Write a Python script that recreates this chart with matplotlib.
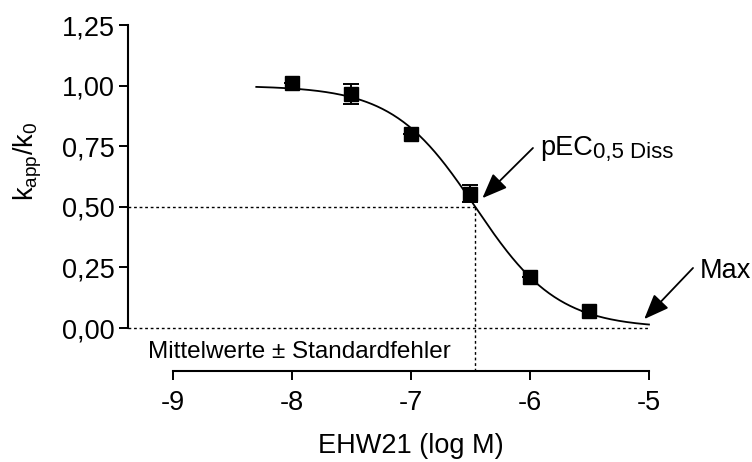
import numpy as np
import matplotlib
matplotlib.use("Agg")
import matplotlib.pyplot as plt

plt.rcParams['font.family'] = ['Liberation Sans', 'DejaVu Sans']
plt.rcParams['mathtext.fontset'] = 'custom'
plt.rcParams['mathtext.rm'] = 'Liberation Sans'
plt.rcParams['mathtext.it'] = 'Liberation Sans'

# measured points (log M, k_app/k_0, SEM)
conc = [-8.0, -7.5, -7.0, -6.5, -6.0, -5.5]
kratio = [1.01, 0.965, 0.80, 0.555, 0.21, 0.072]
sem = [0.0, 0.042, 0.0, 0.035, 0.0, 0.0]

# fitted sigmoid, parameters
top, bottom = 1.0, 0.0
log_ec50 = -6.46
hill = 1.25
fit_range = (-8.3, -5.0)

xticks = [-9, -8, -7, -6, -5]
xticklabels = ["-9", "-8", "-7", "-6", "-5"]
yticks = [0.0, 0.25, 0.5, 0.75, 1.0, 1.25]
yticklabels = ["0,00", "0,25", "0,50", "0,75", "1,00", "1,25"]

W, H = 752, 462
fig = plt.figure(figsize=(W / 100, H / 100), dpi=100)

# axes placed so the detached Prism-style axes match
x0, y_axis = -9.378, -0.177
xmax, ymax = -4.7, 1.30
px_per_x, px_per_y = 119.0, 242.4
left_px, bottom_px = 128, 371
ax = fig.add_axes([left_px / W, (H - bottom_px) / H,
                   (xmax - x0) * px_per_x / W, (ymax - y_axis) * px_per_y / H])
ax.set_xlim(x0, xmax)
ax.set_ylim(y_axis, ymax)

for s in ['top', 'right']:
    ax.spines[s].set_visible(False)
ax.spines['left'].set_bounds(0, 1.25)
ax.spines['bottom'].set_bounds(-9, -5)
for s in ['left', 'bottom']:
    ax.spines[s].set_linewidth(1.5)

ax.set_xticks(xticks)
ax.set_xticklabels(xticklabels)
ax.set_yticks(yticks)
ax.set_yticklabels(yticklabels)
ax.tick_params(axis='both', direction='out', length=6.5, width=1.4,
               labelsize=19.5, colors='black')
ax.tick_params(axis='y', pad=3)
ax.tick_params(axis='x', pad=7)

# curve
xs = np.linspace(fit_range[0], fit_range[1], 300)
ys = bottom + (top - bottom) / (1 + 10 ** ((xs - log_ec50) * hill))
ax.plot(xs, ys, color='black', lw=1.3, zorder=3)

ax.errorbar(conc, kratio, yerr=sem, fmt='none', ecolor='black',
            elinewidth=1.4, capsize=5.5, capthick=1.4, zorder=4)
ax.plot(conc, kratio, 's', color='black', ms=10, zorder=5)

# guide lines
dot = dict(color='black', lw=1.0, ls=(0, (2, 2)), clip_on=False, zorder=2)
ax.plot([x0, log_ec50], [0.5, 0.5], **dot)
ax.plot([x0, -5.0], [0, 0], **dot)
ax.plot([log_ec50, log_ec50], [y_axis, 0.5], **dot)

# annotations
arrow = dict(arrowstyle='-|>,head_length=0.55,head_width=0.22', color='black',
             lw=1.3, shrinkA=0, shrinkB=0, mutation_scale=28)
ax.annotate('', xy=(-6.40, 0.536), xytext=(-5.975, 0.743),
            arrowprops=arrow, annotation_clip=False)
pec = ax.text(-5.916, 0.714, 'pEC', fontsize=19.5, ha='left', va='baseline')
ax.annotate('', xy=(-5.04, 0.037), xytext=(-4.63, 0.248),
            arrowprops=arrow, annotation_clip=False)
ax.text(-4.571, 0.206, 'Max', fontsize=19.5, ha='left', va='baseline')

ax.text(-9.21, -0.124, u'Mittelwerte \u00b1 Standardfehler', fontsize=17.5,
        ha='left', va='baseline')

fig.text(28 / W, 1 - 161 / H, r'k$_{\mathregular{app}}$/k$_{\mathregular{0}}$',
         fontsize=19.5, rotation=90, ha='center', va='center')
fig.text(411 / W, 1 - 446 / H, 'EHW21 (log M)', fontsize=19.5,
         ha='center', va='center')

# subscript of pEC placed right after the main text
fig.canvas.draw()
bb = pec.get_window_extent()
x_sub = ax.transData.inverted().transform((bb.x1, 0))[0]
ax.annotate('0,5 Diss', xy=(x_sub, 0.714), xytext=(0.5, -2.5),
            textcoords='offset points', fontsize=16, ha='left', va='baseline',
            annotation_clip=False)

fig.savefig('out.png', dpi=100)
